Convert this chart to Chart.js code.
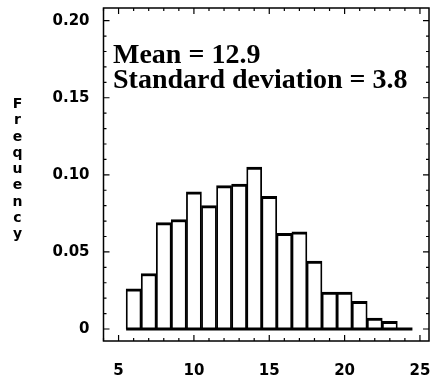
<!DOCTYPE html>
<html>
<head>
<meta charset="utf-8">
<script src="https://cdn.jsdelivr.net/npm/chart.js@4.4.1/dist/chart.umd.min.js"></script>
<style>
  html, body { margin: 0; padding: 0; background: #fff; }
  #wrap { width: 433px; height: 380px; }
</style>
</head>
<body>
<div id="wrap"><canvas id="histChart" width="433" height="380"></canvas></div>
<script>
// bin centres (1 unit wide) and relative frequencies
const binCenters = [6, 7, 8, 9, 10, 11, 12, 13, 14, 15, 16, 17, 18, 19, 20, 21, 22, 23];
const frequency = [0.026, 0.036, 0.069, 0.071, 0.089, 0.080, 0.093, 0.094, 0.105, 0.086,
                   0.062, 0.063, 0.044, 0.024, 0.024, 0.018, 0.007, 0.005];
const baselineX = [5.5, 24.5];
const xTickValues = [5, 10, 15, 20, 25];
const yTickValues = [0, 0.05, 0.10, 0.15, 0.20];
const yLabelLetters = ['F', 'r', 'e', 'q', 'u', 'e', 'n', 'c', 'y'];
const statLines = ['Mean = 12.9', 'Standard deviation = 3.8'];

Chart.defaults.color = '#000';
Chart.defaults.font.family = '"DejaVu Sans", Arial, sans-serif';

// frame round the plot area with small inward ticks on all four sides
const frameTicks = {
    id: 'frameTicks',
    afterDatasetsDraw(chart) {
        const { ctx, chartArea: a, scales: { x, y } } = chart;
        ctx.save();
        ctx.strokeStyle = '#000';
        ctx.lineWidth = 1.5;
        ctx.strokeRect(a.left, a.top, a.right - a.left, a.bottom - a.top);
        ctx.lineWidth = 1.2;
        ctx.beginPath();
        for (let v = Math.ceil(x.min); v <= x.max; v++) {
            const px = x.getPixelForValue(v);
            const len = v % 5 === 0 ? 6 : 3;
            ctx.moveTo(px, a.bottom); ctx.lineTo(px, a.bottom - len);
            ctx.moveTo(px, a.top); ctx.lineTo(px, a.top + len);
        }
        for (let i = 0; i * 0.01 <= y.max; i++) {
            const py = y.getPixelForValue(i * 0.01);
            const len = i % 5 === 0 ? 6 : 3;
            ctx.moveTo(a.left, py); ctx.lineTo(a.left + len, py);
            ctx.moveTo(a.right, py); ctx.lineTo(a.right - len, py);
        }
        ctx.stroke();
        ctx.restore();
    }
};

// stacked "Frequency" label and the stats text inside the plot
const labels = {
    id: 'labels',
    afterDraw(chart) {
        const { ctx, chartArea: a } = chart;
        ctx.save();
        ctx.fillStyle = '#000';
        ctx.textAlign = 'center';
        ctx.textBaseline = 'alphabetic';
        ctx.font = 'bold 14px "DejaVu Sans", Arial, sans-serif';
        yLabelLetters.forEach((ch, i) => ctx.fillText(ch, 17.5, 108 + i * 16.25));

        ctx.textAlign = 'left';
        ctx.font = 'bold 28px "Liberation Serif", "Times New Roman", serif';
        statLines.forEach((t, i) => ctx.fillText(t, a.left + 9.5, a.top + 55 + i * 25));
        ctx.restore();
    }
};

const ctx = document.getElementById('histChart').getContext('2d');

const histChart = new Chart(ctx, {
    type: 'bar',
    data: {
        datasets: [{
            type: 'line',
            data: baselineX.map(v => ({ x: v, y: 0 })),
            borderColor: '#000',
            borderWidth: 3,
            pointRadius: 0,
            order: 0
        }, {
            data: binCenters.map((c, i) => ({ x: c, y: frequency[i] })),
            backgroundColor: '#fff',
            borderColor: '#000',
            borderWidth: { top: 3, left: 1.8, right: 1.8, bottom: 0 },
            barPercentage: 1,
            categoryPercentage: 1,
            order: 1
        }]
    },
    options: {
        responsive: false,
        animation: false,
        layout: { padding: { top: 8, right: 4, left: 0, bottom: 0 } },
        scales: {
            x: {
                type: 'linear',
                offset: false,
                min: 4,
                max: 25.6,
                grid: { display: false, drawTicks: false, offset: false },
                border: { display: false },
                afterBuildTicks: s => { s.ticks = xTickValues.map(v => ({ value: v })); },
                afterFit: s => { s.height = 39; s.paddingLeft = 0; s.paddingRight = 0; },
                ticks: {
                    padding: 21,
                    maxRotation: 0,
                    font: { size: 15, weight: 'bold' },
                    callback: v => String(v)
                }
            },
            y: {
                min: -0.0078,
                max: 0.2082,
                grid: { display: false, drawTicks: false },
                border: { display: false },
                afterBuildTicks: s => { s.ticks = yTickValues.map(v => ({ value: v })); },
                afterFit: s => { s.width = 103.5; s.paddingTop = 0; s.paddingBottom = 0; },
                ticks: {
                    padding: 14,
                    font: { size: 15, weight: 'bold' },
                    callback: v => (v === 0 ? '0' : v.toFixed(2))
                }
            }
        },
        plugins: {
            legend: { display: false },
            tooltip: { enabled: false }
        }
    },
    plugins: [frameTicks, labels]
});
</script>
</body>
</html>
